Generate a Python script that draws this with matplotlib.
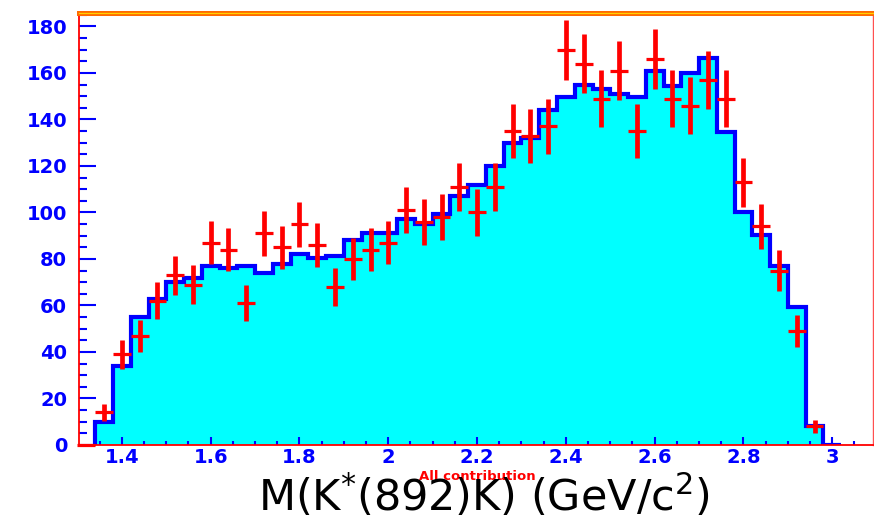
import numpy as np
import matplotlib.pyplot as plt
from matplotlib.ticker import MultipleLocator

# binning of the mass spectrum (GeV/c^2)
bin_w = 0.04
mc_lo = 1.34
data_lo = 1.32

# fitted contribution, one entry per bin starting at mc_lo
mc_counts = [10, 34, 55, 63, 70, 72, 77, 76, 77, 74,
             78, 82, 80.5, 81.5, 88, 91, 91, 97, 95, 99.5,
             107, 112, 120, 130, 132, 144, 149.5, 155, 153, 151,
             149.5, 161, 154.5, 160, 166.5, 134.5, 100, 90.5, 77, 59.5,
             8, 0]

# measured events, bin centres starting at data_lo
data_counts = [0, 14, 39, 47, 62, 73, 69, 87, 84, 61,
               91, 85, 95, 86, 68, 80, 84, 87, 101, 96,
               98, 111, 100, 111, 135, 133, 137, 170, 164, 149,
               161, 135, 166, 149, 146, 157, 149, 113, 94, 75,
               49, 8]
data_err = [0.0, 3.7, 6.2, 6.9, 7.9, 8.5, 8.3, 9.3, 9.2, 7.8,
            9.5, 9.2, 9.7, 9.3, 8.2, 8.9, 9.2, 9.3, 10.0, 9.8,
            9.9, 10.5, 10.0, 10.5, 11.6, 11.5, 11.7, 13.0, 12.8, 12.2,
            12.7, 11.6, 12.9, 12.2, 12.1, 12.5, 12.2, 10.6, 9.7, 8.7,
            7.0, 2.8]

mc_edges = mc_lo + bin_w * np.arange(len(mc_counts) + 1)
data_x = data_lo + bin_w * np.arange(len(data_counts))

blue = "#0000ff"
red = "#ff0000"

fig = plt.figure(figsize=(8.74, 5.2), dpi=100)
ax = fig.add_axes([79 / 874, 75 / 520, 794 / 874, 432 / 520])

ax.stairs(mc_counts, mc_edges, baseline=0, fill=True, color="#00ffff", zorder=1)
ax.stairs(mc_counts, mc_edges, baseline=0, fill=False, color=blue, lw=3.0, zorder=2)

# crosses: thick vertical error, thinner bar across the bin
ax.errorbar(data_x, data_counts, yerr=data_err, fmt="none", ecolor=red,
            elinewidth=3.4, capsize=0, zorder=3, clip_on=False)
ax.errorbar(data_x, data_counts, xerr=bin_w / 2, fmt="none", ecolor=red,
            elinewidth=2.3, capsize=0, zorder=3, clip_on=False)

ax.set_xlim(1.3034, 3.0917)
ax.set_ylim(0, 185.8)

ax.xaxis.set_major_locator(MultipleLocator(0.2))
ax.xaxis.set_minor_locator(MultipleLocator(0.05))
ax.yaxis.set_major_locator(MultipleLocator(20))
ax.yaxis.set_minor_locator(MultipleLocator(5))
ax.xaxis.set_major_formatter(plt.FuncFormatter(lambda v, p: ("%.1f" % v).rstrip("0").rstrip(".")))

ax.tick_params(axis="both", which="both", direction="in", color=blue, width=1.5,
               labelcolor=blue, labelsize=14)
ax.tick_params(axis="y", which="major", length=12, pad=8.5)
ax.tick_params(axis="y", which="minor", length=6)
ax.tick_params(axis="x", which="major", length=6, pad=2.5)
ax.tick_params(axis="x", which="minor", length=3)
for lab in ax.get_xticklabels() + ax.get_yticklabels():
    lab.set_fontweight("bold")

for side in ("left", "bottom"):
    ax.spines[side].set_color(red)
    ax.spines[side].set_linewidth(1.3)
ax.spines["right"].set_color("#ff5050")
ax.spines["right"].set_linewidth(1.0)
ax.spines["top"].set_color("#ff6a00")
ax.spines["top"].set_linewidth(3.6)
ax.axhline(185.8, color="#ffd200", lw=0.9, clip_on=False, zorder=5)

fig.text(477 / 874, 1 - 477 / 520, "All contribution", color=red, fontsize=9.5,
         fontweight="bold", ha="center", va="center", zorder=1)
fig.text(484 / 874, 8.5 / 520, r"M(K$^{*}$(892)K) (GeV/c$^{2}$)", color="black",
         fontsize=31, ha="center", va="baseline", zorder=2)

fig.savefig("out.png", dpi=100)
